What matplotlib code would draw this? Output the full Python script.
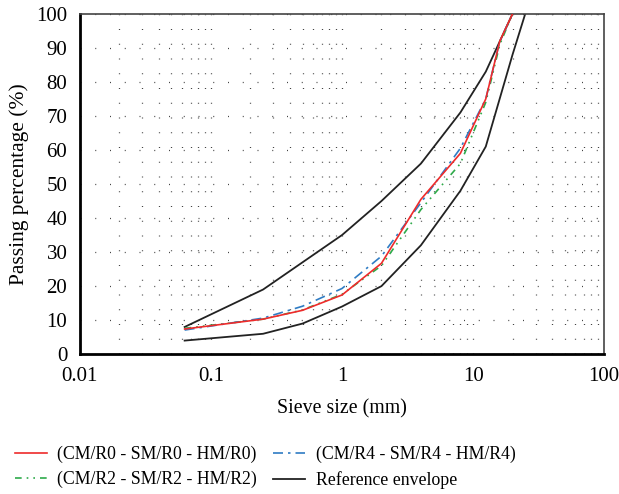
import matplotlib
matplotlib.use("Agg")
import matplotlib.pyplot as plt
from matplotlib.ticker import FixedLocator, NullFormatter

plt.rcParams['font.family'] = ['Liberation Serif', 'DejaVu Serif']

# Sieve sizes (mm)
sizes_mix = [0.063, 0.25, 0.5, 1, 2, 4, 8, 12.5, 16, 20]
r0 = [7.4, 10.3, 12.9, 17.4, 26.7, 45.5, 59, 75, 92, 100]
r2 = [7.6, 10.3, 13.0, 17.6, 26.0, 42.5, 56, 74, 91, 100]
r4 = [7.1, 10.6, 14.1, 19.3, 28.8, 44.5, 60.5, 75, 92, 100]

sizes_upper = [0.063, 0.25, 0.5, 1, 2, 4, 8, 12.5, 20]
upper = [8, 19, 27, 35, 45, 56, 71, 83, 100]
sizes_lower = [0.063, 0.25, 0.5, 1, 2, 4, 8, 12.5, 20, 25]
lower = [4, 6, 9, 14, 20, 32, 48, 61, 88, 100]

xticks = [0.01, 0.1, 1, 10, 100]
xticklabels = ["0.01", "0.1", "1", "10", "100"]
yticks = list(range(0, 101, 10))

fig = plt.figure(figsize=(6.19, 4.94), dpi=100)
ax = fig.add_axes([0.129, 0.283, 0.847, 0.689])

ax.set_xscale('log')
ax.set_xlim(0.01, 100)
ax.set_ylim(0, 100)

# grid
minor = [m * 10.0**e for e in range(-2, 2) for m in range(2, 10)]
ax.xaxis.set_minor_locator(FixedLocator(minor))
ax.xaxis.set_minor_formatter(NullFormatter())
ax.set_xticks(xticks)
ax.set_xticklabels(xticklabels)
ax.set_yticks(yticks)
grid_kw = dict(color='#444444', linewidth=0.9, linestyle=(0, (0.8, 11)))
ax.grid(True, which='major', axis='y', **grid_kw)
ax.grid(True, which='both', axis='x', **grid_kw)

l_r0, = ax.plot(sizes_mix, r0, color='#ee2b2b', linewidth=1.2, zorder=5,
                label='(CM/R0 - SM/R0 - HM/R0)')
l_r2, = ax.plot(sizes_mix, r2, color='#2eaa4a', linewidth=1.2, zorder=4,
                linestyle=(0, (4, 3, 1, 3, 1, 3)),
                label='(CM/R2 - SM/R2 - HM/R2)')
l_r4, = ax.plot(sizes_mix, r4, color='#2f7cc4', linewidth=1.2, zorder=4,
                linestyle=(0, (6, 3, 1.5, 3)),
                label='(CM/R4 - SM/R4 - HM/R4)')
l_env, = ax.plot(sizes_upper, upper, color='#222222', linewidth=1.3,
                 label='Reference envelope')
ax.plot(sizes_lower, lower, color='#222222', linewidth=1.3)

for s in ['left', 'bottom']:
    ax.spines[s].set_linewidth(2.0)
    ax.spines[s].set_color('black')
for s in ['top', 'right']:
    ax.spines[s].set_linewidth(1.2)
    ax.spines[s].set_color('#444444')

ax.tick_params(axis='both', which='both', length=0, labelsize=15)
ax.tick_params(axis='x', pad=9)
ax.tick_params(axis='y', pad=9)

ax.set_xlabel('Sieve size (mm)', fontsize=14.3, labelpad=10)
ax.set_ylabel('Passing percentage (%)', fontsize=15.5, labelpad=5)

fig.legend(handles=[l_r0, l_r2, l_r4, l_env], loc='upper left',
           bbox_to_anchor=(0.012, 0.112), ncol=2, frameon=False,
           fontsize=12.8, handlelength=1.8, handletextpad=0.6,
           columnspacing=0.9, labelspacing=0.45, borderaxespad=0)

fig.savefig('out.png', dpi=100)
